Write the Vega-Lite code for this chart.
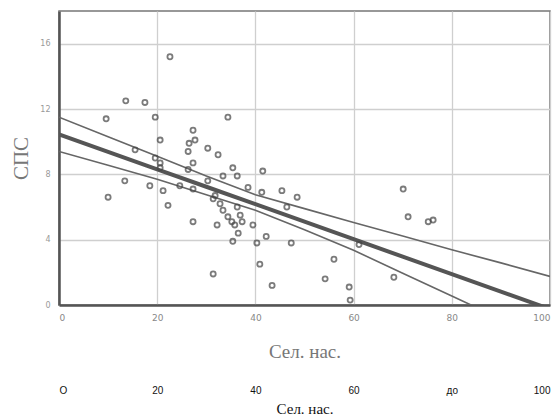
{
  "$schema": "https://vega.github.io/schema/vega-lite/v6.json",
  "width": 491,
  "height": 294,
  "autosize": {"type": "none"},
  "padding": {"left": 59, "top": 11, "right": 8, "bottom": 114},
  "background": "white",
  "config": {
    "view": {"stroke": "#777", "strokeWidth": 1.5},
    "axis": {"gridColor": "#cfcfcf", "gridWidth": 1.3}
  },
  "datasets": {
    "pts": [
      {"sel": 22.6, "sps": 15.2}, {"sel": 13.6, "sps": 12.5}, {"sel": 17.5, "sps": 12.4},
      {"sel": 9.6, "sps": 11.4}, {"sel": 19.6, "sps": 11.5}, {"sel": 20.6, "sps": 10.1},
      {"sel": 15.5, "sps": 9.5}, {"sel": 19.6, "sps": 9.0}, {"sel": 20.6, "sps": 8.7},
      {"sel": 20.6, "sps": 8.4}, {"sel": 13.4, "sps": 7.6}, {"sel": 18.5, "sps": 7.3},
      {"sel": 21.2, "sps": 7.0}, {"sel": 10.0, "sps": 6.6}, {"sel": 24.6, "sps": 7.3},
      {"sel": 27.3, "sps": 7.1}, {"sel": 27.3, "sps": 10.7}, {"sel": 27.7, "sps": 10.1},
      {"sel": 26.5, "sps": 9.9}, {"sel": 26.3, "sps": 9.4}, {"sel": 30.3, "sps": 9.6},
      {"sel": 32.4, "sps": 9.2}, {"sel": 34.4, "sps": 11.5}, {"sel": 27.3, "sps": 8.7},
      {"sel": 26.3, "sps": 8.3}, {"sel": 30.3, "sps": 7.6}, {"sel": 33.4, "sps": 7.9},
      {"sel": 36.3, "sps": 7.9}, {"sel": 35.4, "sps": 8.4}, {"sel": 41.5, "sps": 8.2},
      {"sel": 22.2, "sps": 6.1}, {"sel": 31.4, "sps": 6.5}, {"sel": 31.8, "sps": 6.7},
      {"sel": 32.8, "sps": 6.2}, {"sel": 38.5, "sps": 7.2}, {"sel": 41.3, "sps": 6.9},
      {"sel": 45.4, "sps": 7.0}, {"sel": 48.5, "sps": 6.6}, {"sel": 46.4, "sps": 6.0},
      {"sel": 27.3, "sps": 5.1}, {"sel": 33.4, "sps": 5.8}, {"sel": 36.3, "sps": 6.0},
      {"sel": 34.4, "sps": 5.4}, {"sel": 36.9, "sps": 5.5}, {"sel": 37.3, "sps": 5.1},
      {"sel": 35.2, "sps": 5.1}, {"sel": 35.8, "sps": 4.9}, {"sel": 32.2, "sps": 4.9},
      {"sel": 36.5, "sps": 4.4}, {"sel": 35.4, "sps": 3.9}, {"sel": 39.5, "sps": 4.9},
      {"sel": 40.3, "sps": 3.8}, {"sel": 42.2, "sps": 4.2}, {"sel": 40.9, "sps": 2.5},
      {"sel": 31.4, "sps": 1.9}, {"sel": 43.4, "sps": 1.2}, {"sel": 47.3, "sps": 3.8},
      {"sel": 61.1, "sps": 3.7}, {"sel": 56.0, "sps": 2.8}, {"sel": 54.2, "sps": 1.6},
      {"sel": 59.1, "sps": 1.1}, {"sel": 59.3, "sps": 0.3}, {"sel": 68.2, "sps": 1.7},
      {"sel": 70.1, "sps": 7.1}, {"sel": 71.1, "sps": 5.4}, {"sel": 75.2, "sps": 5.1},
      {"sel": 76.2, "sps": 5.2}
    ],
    "fit": [
      {"sel": 0, "mean": 10.45, "upper": 11.5, "lower": 9.4},
      {"sel": 10, "mean": 9.38, "upper": 10.3, "lower": 8.55},
      {"sel": 20, "mean": 8.31, "upper": 9.1, "lower": 7.7},
      {"sel": 30, "mean": 7.24, "upper": 7.9, "lower": 6.75},
      {"sel": 40, "mean": 6.17, "upper": 6.75, "lower": 5.8},
      {"sel": 50, "mean": 5.1, "upper": 5.9, "lower": 4.6},
      {"sel": 60, "mean": 4.03, "upper": 5.05, "lower": 3.35},
      {"sel": 70, "mean": 2.96, "upper": 4.22, "lower": 1.95},
      {"sel": 80, "mean": 1.89, "upper": 3.38, "lower": 0.55},
      {"sel": 90, "mean": 0.82, "upper": 2.58, "lower": -0.85},
      {"sel": 100, "mean": -0.25, "upper": 1.75, "lower": -2.25}
    ]
  },
  "resolve": {"axis": {"x": "independent"}},
  "layer": [
    {
      "data": {"name": "fit"},
      "mark": {"type": "line", "color": "#666", "strokeWidth": 1.6, "clip": true},
      "encoding": {
        "x": {"field": "sel", "type": "quantitative",
          "scale": {"domain": [0, 100], "nice": false},
          "axis": {"orient": "bottom", "values": [0, 20, 40, 60, 80, 100], "grid": true,
            "ticks": false, "domainColor": "#555", "domainWidth": 2.5,
            "labelColor": "#888", "labelFontSize": 9, "labelPadding": 8, "labelFont": "DejaVu Sans",
            "title": "Сел. нас.", "titleFont": "Liberation Serif", "titleFontSize": 19,
            "titleFontWeight": "normal", "titleColor": "#777", "titlePadding": 20}},
        "y": {"field": "upper", "type": "quantitative",
          "scale": {"domain": [0, 18], "nice": false},
          "axis": {"values": [0, 4, 8, 12, 16], "grid": true, "ticks": false,
            "domainColor": "#555", "domainWidth": 2.5,
            "labelColor": "#999", "labelFontSize": 8, "labelPadding": 9, "labelFont": "DejaVu Sans",
            "title": "СПС", "titleFont": "Liberation Serif", "titleFontSize": 21,
            "titleFontWeight": "normal", "titleColor": "#777", "titlePadding": 8}}
      }
    },
    {
      "data": {"name": "fit"},
      "mark": {"type": "line", "color": "#666", "strokeWidth": 1.6, "clip": true},
      "encoding": {
        "x": {"field": "sel", "type": "quantitative",
          "axis": {"orient": "bottom", "offset": 75, "domain": false, "ticks": false, "grid": false,
            "values": [0, 20, 40, 60, 80, 100],
            "labelExpr": "datum.value == 0 ? 'O' : (datum.value == 80 ? 'до' : datum.label)",
            "labelColor": "#111", "labelFontSize": 10, "labelFont": "Liberation Sans", "labelPadding": 5,
            "title": "Сел. нас.", "titleFont": "Liberation Serif", "titleFontSize": 15,
            "titleFontWeight": "normal", "titleColor": "#111", "titlePadding": 6}},
        "y": {"field": "lower", "type": "quantitative"}
      }
    },
    {
      "data": {"name": "fit"},
      "mark": {"type": "line", "color": "#555", "strokeWidth": 4, "clip": true},
      "encoding": {
        "x": {"field": "sel", "type": "quantitative", "axis": null},
        "y": {"field": "mean", "type": "quantitative"}
      }
    },
    {
      "data": {"name": "pts"},
      "mark": {"type": "point", "shape": "circle", "filled": false, "color": "#444", "strokeWidth": 1.8, "size": 26},
      "encoding": {
        "x": {"field": "sel", "type": "quantitative", "axis": null},
        "y": {"field": "sps", "type": "quantitative"}
      }
    }
  ]
}
